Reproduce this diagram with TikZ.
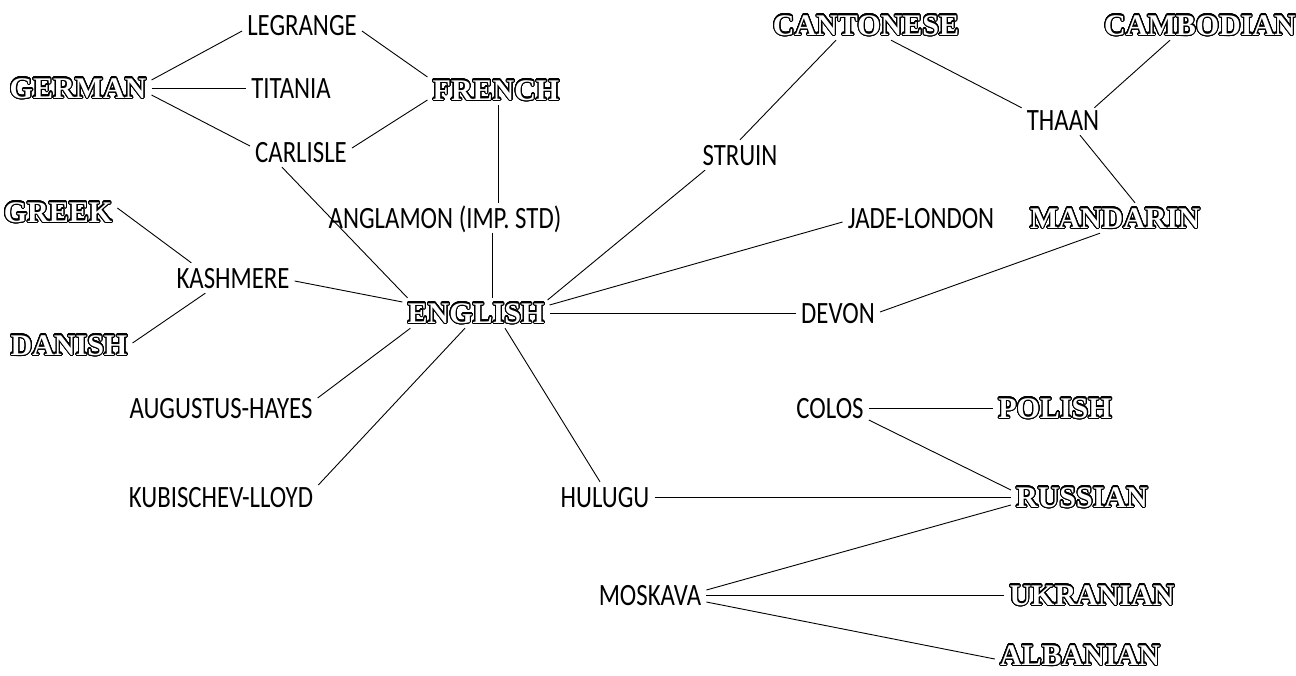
\documentclass[tikz,border=0pt]{standalone}
\usepackage{fontspec}
\setmainfont{Carlito}
\newfontfamily\plainf[FakeStretch=0.8]{Carlito}
\newfontfamily\outf{Liberation Serif}
\usepackage[copies]{contour}
\contourlength{1.1pt}
\contournumber{32}
\usetikzlibrary{calc}
\newcommand\olt[1]{\contour{black}{#1}}
\tikzset{
  inv/.style={font=\plainf\fontsize{31}{31}\selectfont, inner sep=5pt, text height=20pt, text depth=0pt},
  real/.style={font=\outf\bfseries\fontsize{30}{30}\selectfont, text=white, inner sep=5pt, text height=20pt, text depth=0pt},
  link/.style={line width=0.9pt, black}
}
\begin{document}
\begin{tikzpicture}[x=1pt,y=-1pt]
\useasboundingbox (0,0) rectangle (1296,675);
% real languages
\node[real] (german) at (78,88) {\olt{GERMAN}};
\node[real] (french) at (496,90) {\olt{FRENCH}};
\node[real] (greek) at (58,212) {\olt{GREEK}};
\node[real] (danish) at (69,345) {\olt{DANISH}};
\node[real] (english) at (476,313) {\olt{ENGLISH}};
\node[real] (cantonese) at (866,25) {\olt{CANTONESE}};
\node[real] (cambodian) at (1200,25) {\olt{CAMBODIAN}};
\node[real] (mandarin) at (1115,218) {\olt{MANDARIN}};
\node[real] (polish) at (1055,408) {\olt{POLISH}};
\node[real] (russian) at (1082,497) {\olt{RUSSIAN}};
\node[real] (ukranian) at (1092,595) {\olt{UKRANIAN}};
\node[real] (albanian) at (1080,655) {\olt{ALBANIAN}};
% invented languages
\node[inv] (legrange) at (302,25) {LEGRANGE};
\node[inv] (titania) at (291,88) {TITANIA};
\node[inv] (carlisle) at (301,152) {CARLISLE};
\node[inv] (kashmere) at (233,278) {KASHMERE};
\node[inv] (anglamon) at (445,218) {ANGLAMON (IMP. STD)};
\node[inv] (augustus) at (221,408) {AUGUSTUS-HAYES};
\node[inv] (kubischev) at (221,497) {KUBISCHEV-LLOYD};
\node[inv] (hulugu) at (605,497) {HULUGU};
\node[inv] (struin) at (740,155) {STRUIN};
\node[inv] (jade) at (921,218) {JADE-LONDON};
\node[inv] (devon) at (838,313) {DEVON};
\node[inv] (thaan) at (1063,120) {THAAN};
\node[inv] (colos) at (830,408) {COLOS};
\node[inv] (moskava) at (650,595) {MOSKAVA};
% helper coordinates for the vertical links
\coordinate (fr-s) at ($(french.south)+(2,0)$);
\coordinate (en-n) at ($(english.north)+(16,0)$);
% connectors
\draw[link] ($(german.east)+(0,-8)$) -- ($(legrange.west)+(0,6)$);
\draw[link] (german.east) -- (titania.west);
\draw[link] ($(german.east)+(0,7)$) -- ($(carlisle.west)+(0,-6)$);
\draw[link] ($(legrange.east)+(0,6)$) -- ($(french.west)+(0,-13)$);
\draw[link] ($(carlisle.east)+(0,-4)$) -- ($(french.west)+(0,10)$);
\draw[link] (fr-s) -- (fr-s |- anglamon.north);
\draw[link] (en-n |- anglamon.south) -- (en-n);
\draw[link] ($(carlisle.south)+(-19,0)$) -- ($(english.north west)+(5,0)$);
\draw[link] ($(greek.east)+(0,-4)$) -- ($(kashmere.north west)+(20,0)$);
\draw[link] ($(danish.east)+(0,-2)$) -- ($(kashmere.south west)+(34,0)$);
\draw[link] ($(kashmere.east)+(0,3)$) -- ($(english.west)+(0,-11)$);
\draw[link] ($(english.south west)+(8,0)$) -- ($(augustus.east)+(0,-10)$);
\draw[link] ($(english.south)+(-11,0)$) -- ($(kubischev.east)+(0,-12)$);
\draw[link] ($(english.south)+(29,0)$) -- ($(hulugu.north)+(-5,0)$);
\draw[link] ($(english.east)+(-2,-13)$) -- ($(struin.south)+(-35,0)$);
\draw[link] ($(english.east)+(0,-8)$) -- ($(jade.west)+(0,4)$);
\draw[link] (english.east) -- (devon.west);
\draw[link] ($(devon.east)+(0,-1)$) -- ($(mandarin.south)+(-15,0)$);
\draw[link] (struin.north) -- ($(cantonese.south)+(-30,0)$);
\draw[link] ($(cantonese.south)+(25,0)$) -- ($(thaan.north west)+(0,3)$);
\draw[link] ($(cambodian.south)+(-30,0)$) -- ($(thaan.north east)+(-10,3)$);
\draw[link] ($(thaan.south)+(17,0)$) -- ($(mandarin.north)+(20,0)$);
\draw[link] (colos.east) -- (polish.west);
\draw[link] ($(colos.east)+(0,12)$) -- ($(russian.west)+(0,-7)$);
\draw[link] (hulugu.east) -- (russian.west);
\draw[link] ($(moskava.east)+(0,-5)$) -- ($(russian.west)+(0,8)$);
\draw[link] (moskava.east) -- (ukranian.west);
\draw[link] ($(moskava.east)+(0,7)$) -- ($(albanian.west)+(0,4)$);
\end{tikzpicture}
\end{document}
